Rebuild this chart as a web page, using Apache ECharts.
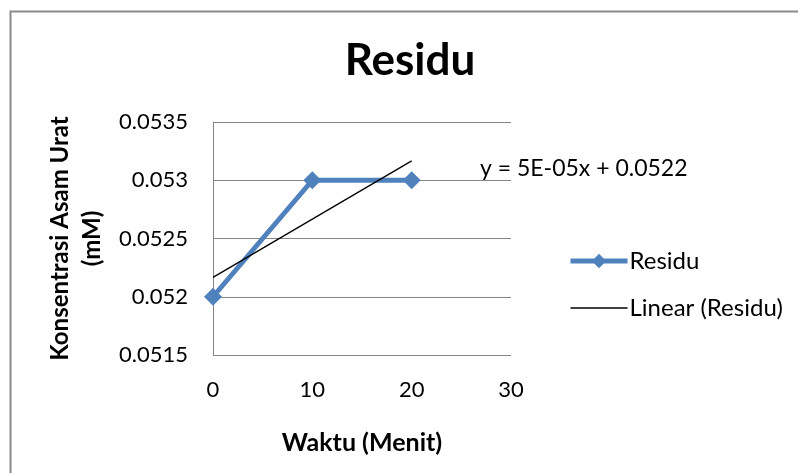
<!DOCTYPE html>
<html>
<head>
<meta charset="utf-8">
<script src="https://cdn.jsdelivr.net/npm/echarts@6/dist/echarts.min.js"></script>
<style>html,body{margin:0;padding:0;background:#fff}#c{width:798px;height:473px}</style>
</head>
<body>
<div id="c"></div>
<script>
var titleText = 'Residu';
var xName = 'Waktu (Menit)';
var yName = 'Konsentrasi Asam Urat\n(mM)';
var seriesName = 'Residu';
var trendName = 'Linear (Residu)';
var xValues = [0, 10, 20];
var yValues = [0.052, 0.053, 0.053];
var equationText = 'y = 5E-05x + 0.0522';
var xTicks = [0, 10, 20, 30];
var yTicks = [0.0515, 0.052, 0.0525, 0.053, 0.0535];

// least squares trendline from the data
var n = xValues.length, mx = 0, my = 0;
for (var i = 0; i < n; i++) { mx += xValues[i]; my += yValues[i]; }
mx /= n; my /= n;
var sxy = 0, sxx = 0;
for (var i = 0; i < n; i++) { sxy += (xValues[i]-mx)*(yValues[i]-my); sxx += (xValues[i]-mx)*(xValues[i]-mx); }
var slope = sxy / sxx, intercept = my - slope * mx;
var xMinD = Math.min.apply(null, xValues), xMaxD = Math.max.apply(null, xValues);
var trendData = [[xMinD, intercept + slope * xMinD], [xMaxD, intercept + slope * xMaxD]];

var FONT = 'Lato';
var chart = echarts.init(document.getElementById('c'));
chart.setOption({
  animation: false,
  backgroundColor: '#fff',
  textStyle: { fontFamily: FONT },
  title: {
    text: titleText, left: 405, top: 34, textAlign: 'center',
    textStyle: { fontFamily: FONT, fontWeight: 'bold', fontSize: 44, color: '#000' }
  },
  grid: { left: 213, right: 287, top: 122, bottom: 118 },
  xAxis: {
    type: 'value', min: xTicks[0], max: xTicks[xTicks.length-1], interval: 10,
    name: xName, nameLocation: 'middle', nameGap: 75,
    nameTextStyle: { fontFamily: FONT, fontWeight: 'bold', fontSize: 25, color: '#000' },
    axisLine: { show: false },
    axisTick: { show: false },
    splitLine: { show: false },
    axisLabel: { fontFamily: FONT, fontSize: 22, color: '#000', margin: 24 }
  },
  yAxis: {
    type: 'value', min: yTicks[0], max: yTicks[yTicks.length-1], interval: 0.0005,
    name: yName, nameLocation: 'middle', nameGap: 105, nameRotate: 90,
    nameTextStyle: { fontFamily: FONT, fontWeight: 'bold', fontSize: 24, color: '#000', lineHeight: 32 },
    axisLine: { show: true, lineStyle: { color: '#868686', width: 1 } },
    axisTick: { show: false },
    splitLine: { show: true, lineStyle: { color: '#868686', width: 1 } },
    axisLabel: { fontFamily: FONT, fontSize: 22, color: '#000', margin: 25,
      formatter: function (v) { return String(parseFloat(v.toFixed(4))); } }
  },
  legend: {
    orient: 'vertical', left: 563, top: 242, itemGap: 19, itemWidth: 57, itemHeight: 18,
    textStyle: { fontFamily: FONT, fontSize: 24, lineHeight: 28, color: '#000', padding: [0,0,0,-3] },
    data: [
      { name: seriesName, lineStyle: { color: '#4f81bd', width: 5 } },
      { name: trendName, lineStyle: { color: '#000', width: 1.3 }, itemStyle: { color: 'rgba(0,0,0,0)', opacity: 0 } }
    ]
  },
  series: [
    {
      name: seriesName, type: 'line',
      data: xValues.map(function (x, i) { return [x, yValues[i]]; }),
      symbol: 'diamond', symbolSize: 18,
      lineStyle: { color: '#4f81bd', width: 5 },
      itemStyle: { color: '#4f81bd' },
      z: 3
    },
    {
      name: trendName, type: 'line', data: trendData,
      symbol: 'none', lineStyle: { color: '#000', width: 1.3 },
      itemStyle: { color: '#000' },
      z: 4
    }
  ],
  graphic: [
    { type: 'rect', left: 8, top: 9, shape: { width: 900, height: 600 },
      style: { fill: 'none', stroke: '#8a8a8a', lineWidth: 2 }, silent: true },
    { type: 'text', left: 480, top: 157,
      style: { text: equationText, fontFamily: FONT, fontSize: 23, fill: '#000' } }
  ]
});
</script>
</body>
</html>
